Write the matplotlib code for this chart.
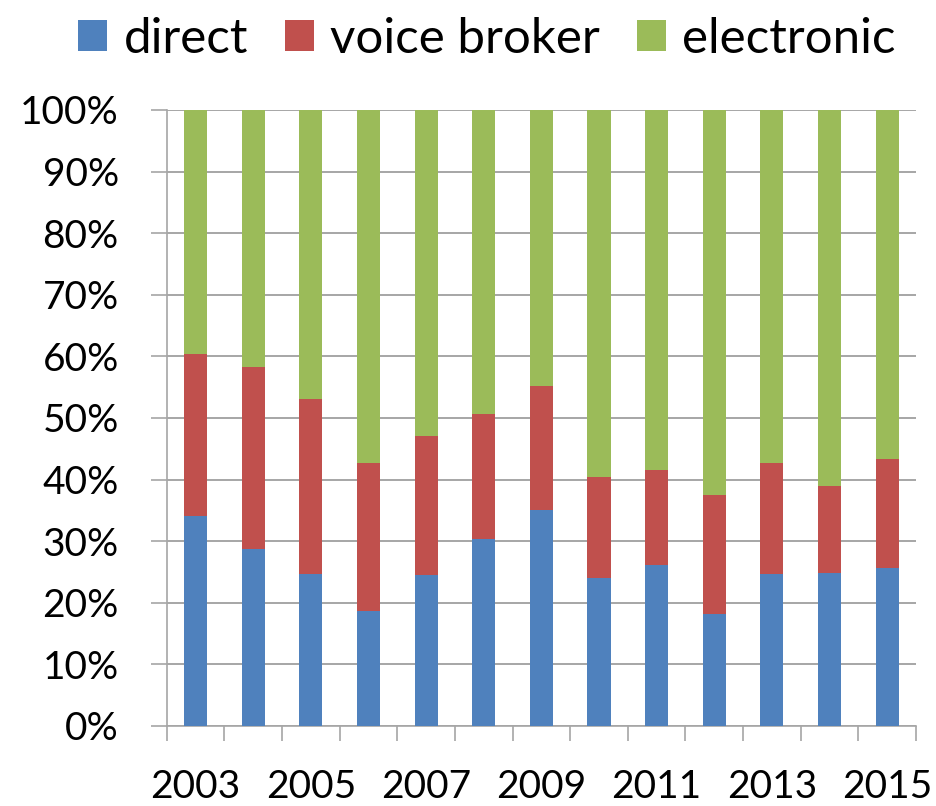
import matplotlib
matplotlib.use("Agg")
import matplotlib.pyplot as plt
import numpy as np

years = [2003, 2004, 2005, 2006, 2007, 2008, 2009, 2010, 2011, 2012, 2013, 2014, 2015]
direct = [34.1, 28.7, 24.7, 18.6, 24.5, 30.4, 35.0, 24.1, 26.1, 18.2, 24.7, 24.9, 25.7]
direct_plus_voice = [60.4, 58.3, 53.1, 42.7, 47.1, 50.6, 55.2, 40.4, 41.6, 37.5, 42.7, 38.9, 43.4]
voice = [round(t - d, 1) for t, d in zip(direct_plus_voice, direct)]
electronic = [round(100 - t, 1) for t in direct_plus_voice]
series_names = ["direct", "voice broker", "electronic"]
colors = ["#4F81BD", "#C0504D", "#9BBB59"]
ytick_vals = list(range(0, 101, 10))
label_years = years[::2]

plt.rcParams['font.family'] = ['Lato', 'DejaVu Sans']
FS = 28
LFS = 35.5

fig = plt.figure(figsize=(9.37, 8.06), dpi=100)
ax = fig.add_axes([166.7/937, 1-726/806, (916-166.7)/937, (726-110)/806])

x = np.arange(len(years))
w = 0.4
b1 = ax.bar(x, direct, width=w, color=colors[0], label=series_names[0], zorder=3)
b2 = ax.bar(x, voice, width=w, bottom=direct, color=colors[1], label=series_names[1], zorder=3)
bottom3 = [d + v for d, v in zip(direct, voice)]
b3 = ax.bar(x, electronic, width=w, bottom=bottom3, color=colors[2], label=series_names[2], zorder=3)

ax.set_xlim(-0.5, len(years) - 0.5)
ax.set_ylim(0, 100)

grid_c = "#A6A6A6"
ax.set_yticks(ytick_vals)
ax.set_yticklabels([f"{v}%" for v in ytick_vals], fontsize=FS)
ax.yaxis.grid(True, color=grid_c, linewidth=1.4, zorder=0)
ax.tick_params(axis='y', length=11.5, width=1.2, color=grid_c, pad=23)

ax.set_xticks(np.arange(-0.5, len(years), 1.0))
ax.set_xticklabels([])
ax.tick_params(axis='x', which='major', length=11, width=1.2, color=grid_c)
ax.set_xticks(x[::2], minor=True)
ax.set_xticklabels([str(y) for y in label_years], minor=True, fontsize=FS)
ax.tick_params(axis='x', which='minor', length=0, pad=31)

for s in ["top", "right"]:
    ax.spines[s].set_visible(False)
for s in ["left", "bottom"]:
    ax.spines[s].set_color(grid_c)
    ax.spines[s].set_linewidth(1.2)

fig.legend(handles=[b1, b2, b3], labels=series_names, loc="center",
           bbox_to_anchor=(487/937, 1-39/806), ncol=3, frameon=False,
           fontsize=LFS, handlelength=0.59, handleheight=0.59,
           handletextpad=0.33, columnspacing=0.75, borderaxespad=0, borderpad=0)

fig.savefig("out.png", dpi=100)
